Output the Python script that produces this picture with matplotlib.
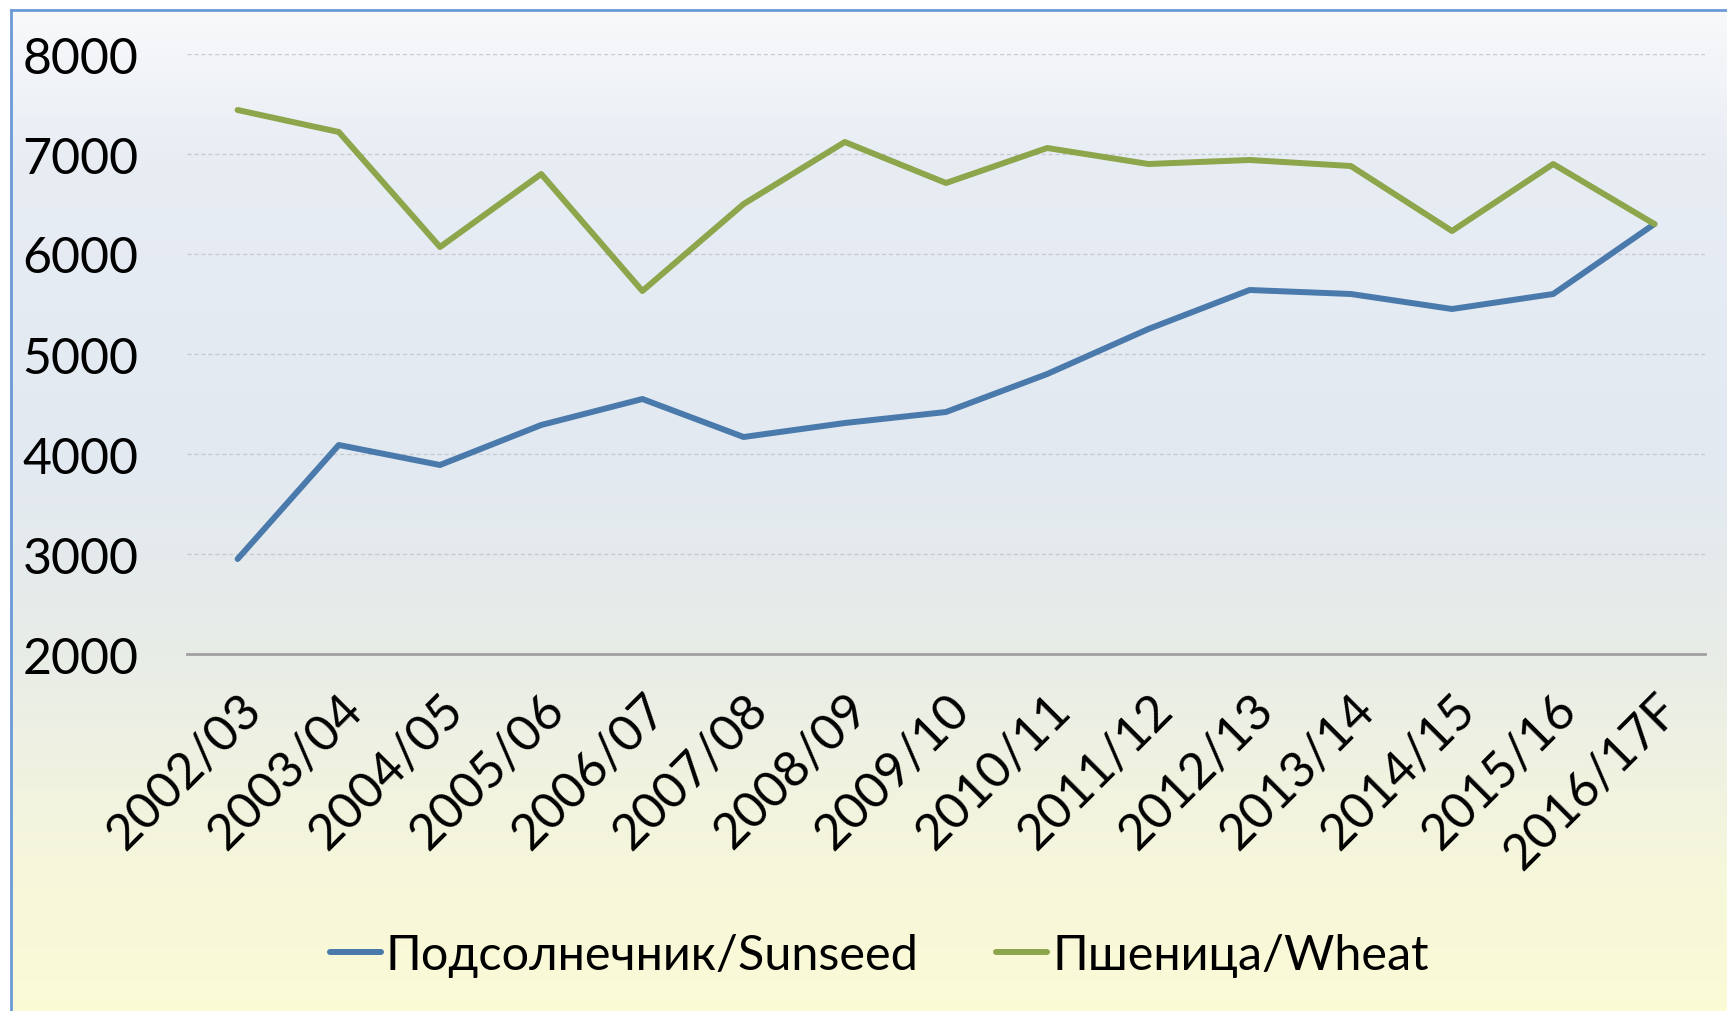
import numpy as np
import matplotlib
matplotlib.use("Agg")
import matplotlib.pyplot as plt
from matplotlib.colors import LinearSegmentedColormap

plt.rcParams['font.family'] = ['Lato', 'DejaVu Sans']

# --- data ---
seasons = ['2002/03', '2003/04', '2004/05', '2005/06', '2006/07', '2007/08',
           '2008/09', '2009/10', '2010/11', '2011/12', '2012/13', '2013/14',
           '2014/15', '2015/16', '2016/17F']
sunseed = [2950, 4090, 3890, 4290, 4550, 4170, 4310, 4420, 4800, 5250,
           5640, 5600, 5450, 5600, 6300]
wheat = [7440, 7220, 6070, 6800, 5630, 6500, 7120, 6710, 7060, 6900,
         6940, 6880, 6230, 6900, 6300]
yticks = [2000, 3000, 4000, 5000, 6000, 7000, 8000]

W, H = 1727, 1012
fig = plt.figure(figsize=(W / 100, H / 100), dpi=100)
fig.patch.set_facecolor('white')

# gradient background (light blue top -> pale yellow bottom)
bg = fig.add_axes([11 / W, 0, 1 - 11 / W, 1 - 11 / H], zorder=0)
grad = LinearSegmentedColormap.from_list('bg', [
    (0.0, '#fbfbd6'), (0.15, '#f6f6dc'), (0.35, '#e8ede7'),
    (0.55, '#e2e9f1'), (0.85, '#e8edf4'), (1.0, '#f8f9fb')])
bg.imshow(np.linspace(0, 1, 256).reshape(-1, 1), aspect='auto', cmap=grad,
          origin='lower', extent=[0, 1, 0, 1])
bg.set_axis_off()

# border lines (top and left)
fig.add_artist(plt.Line2D([11 / W, 1], [1 - 11 / H, 1 - 11 / H], color='#6b9bd6', lw=2))
fig.add_artist(plt.Line2D([11 / W, 11 / W], [0, 1 - 11 / H], color='#6b9bd6', lw=2))

ax = fig.add_axes([187 / W, 1 - 655 / H, (1705 - 187) / W, (655 - 55) / H], zorder=1)
ax.patch.set_alpha(0)

x = np.arange(len(seasons))
l1, = ax.plot(x, sunseed, color='#4a79ab', lw=4.3, solid_capstyle='round',
              label='Подсолнечник/Sunseed')
l2, = ax.plot(x, wheat, color='#8da54b', lw=4.3, solid_capstyle='round',
              label='Пшеница/Wheat')

ax.set_xlim(-0.5, len(seasons) - 0.5)
ax.set_ylim(2000, 8000)
ax.set_yticks(yticks)
ax.set_yticklabels([str(v) for v in yticks], fontsize=36)
ax.set_xticks(x)
ax.set_xticklabels(seasons, fontsize=36, rotation=45, ha='right',
                   rotation_mode='anchor')
ax.tick_params(axis='both', length=0)
ax.tick_params(axis='y', pad=35)
ax.tick_params(axis='x', pad=22)

for v in yticks[1:]:
    ax.axhline(v, color='#c8ccd2', lw=1, ls=(0, (3, 2)), zorder=0)
for s in ['top', 'right', 'left']:
    ax.spines[s].set_visible(False)
ax.spines['bottom'].set_color('#a0a0a0')
ax.spines['bottom'].set_linewidth(2)

fig.legend(handles=[l1, l2], loc='center', bbox_to_anchor=(0.509, 0.055),
           ncol=2, frameon=False, fontsize=35, handlelength=1.05,
           handletextpad=0.1, columnspacing=1.6)

fig.savefig('out.png', dpi=100)
